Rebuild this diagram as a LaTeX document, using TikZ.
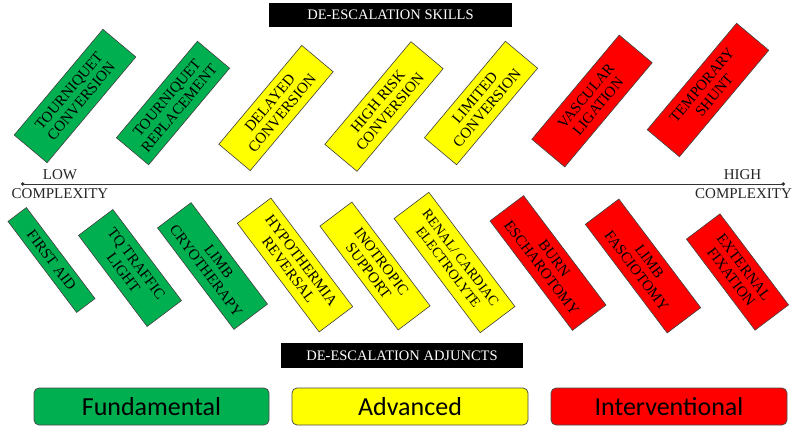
\documentclass[tikz,border=0pt]{standalone}
\usepackage{fontspec}
\setmainfont{Liberation Serif}
\newfontfamily\legendfont{Carlito}
\usepackage{tikz}
\usetikzlibrary{arrows.meta}
\definecolor{fundgreen}{HTML}{00B050}
\definecolor{advyellow}{HTML}{FFFF00}
\definecolor{intred}{HTML}{FF0000}

\begin{document}
\begin{tikzpicture}[x=1pt,y=1pt]
\tikzset{skill/.style={draw=black!75, line width=0.6pt, inner sep=0pt, align=center,
  font=\fontsize{15}{16}\selectfont}}
\tikzset{up skill/.style={skill, rotate=50}}
\tikzset{down skill/.style={skill, rotate=-53}}
\tikzset{banner/.style={fill=black, text=white, inner sep=0pt, minimum height=24pt,
  font=\fontsize{14.5}{15}\selectfont}}
\tikzset{endlabel/.style={inner sep=0pt, text=black!85, font=\fontsize{15}{15}\selectfont}}
\tikzset{legend/.style={draw=black!70, line width=0.75pt, rounded corners=5pt,
  minimum width=236pt, minimum height=37pt, inner sep=0pt,
  font=\legendfont\fontsize{26}{26}\selectfont}}
\fill[white] (0,0) rectangle (800,437);
\useasboundingbox (0,0) rectangle (800,437);

\node[banner, minimum width=243pt] (skillsbanner) at (390.5,422) {DE-ESCALATION SKILLS};

\node[up skill, fill=fundgreen, minimum width=138pt, minimum height=43pt] (tqconv) at (75,341) {TOURNIQUET\\CONVERSION};
\node[up skill, fill=fundgreen, minimum width=126pt, minimum height=42pt] (tqrepl) at (173,334) {TOURNIQUET\\REPLACEMENT};
\node[up skill, fill=advyellow, minimum width=129pt, minimum height=41pt] (delayed) at (276,329) {DELAYED\\CONVERSION};
\node[up skill, fill=advyellow, minimum width=134pt, minimum height=42pt] (highrisk) at (384,330.5) {HIGH RISK\\CONVERSION};
\node[up skill, fill=advyellow, minimum width=126pt, minimum height=42pt] (limited) at (481,334) {LIMITED\\CONVERSION};
\node[up skill, fill=intred, minimum width=136pt, minimum height=43pt] (ligation) at (592,336) {VASCULAR\\LIGATION};
\node[up skill, fill=intred, minimum width=139pt, minimum height=42pt] (shunt) at (708,347) {TEMPORARY\\SHUNT};

\coordinate (lowend) at (21,253);
\coordinate (highend) at (785,253);
\draw[line width=0.9pt, black!80, {Circle[length=3.5pt]}-{Circle[length=3.5pt]}] (lowend) -- (highend);
\node[endlabel] (low) at (60,262) {LOW};
\node[endlabel] (lowcx) at (60,243) {COMPLEXITY};
\node[endlabel] (high) at (742.5,262) {HIGH};
\node[endlabel] (highcx) at (743.5,243) {COMPLEXITY};

\node[down skill, fill=fundgreen, minimum width=114pt, minimum height=23pt] (firstaid) at (51.5,177) {FIRST AID};
\node[down skill, fill=fundgreen, minimum width=114pt, minimum height=43pt] (traffic) at (130,169) {TQ TRAFFIC\\LIGHT};
\node[down skill, fill=fundgreen, minimum width=127pt, minimum height=42pt] (cryo) at (212.5,171) {LIMB\\CRYOTHERAPY};
\node[down skill, fill=advyellow, minimum width=136pt, minimum height=42pt] (hypo) at (295,172) {HYPOTHERMIA\\REVERSAL};
\node[down skill, fill=advyellow, minimum width=130pt, minimum height=40pt] (inotrop) at (375,171) {INOTROPIC\\SUPPORT};
\node[down skill, fill=advyellow, minimum width=143pt, minimum height=43.5pt, font=\fontsize{14}{15.5}\selectfont] (renal) at (454.5,174.5) {RENAL/ CARDIAC\\ELECTROLYTE};
\node[down skill, fill=intred, minimum width=137pt, minimum height=42pt] (burn) at (548,174) {BURN\\ESCHAROTOMY};
\node[down skill, fill=intred, minimum width=136pt, minimum height=42pt] (fascio) at (643,171) {LIMB\\FASCIOTOMY};
\node[down skill, fill=intred, minimum width=114pt, minimum height=42pt] (exfix) at (737.5,165) {EXTERNAL\\FIXATION};

\node[banner, minimum width=242pt, minimum height=25pt] (adjunctsbanner) at (402,81.5) {DE-ESCALATION ADJUNCTS};

\node[legend, fill=fundgreen, minimum width=235pt] (fundamental) at (151.5,30.5) {Fundamental};
\node[legend, fill=advyellow] (advanced) at (410,30.5) {Advanced};
\node[legend, fill=intred] (interventional) at (669,30.5) {Interventional};
\end{tikzpicture}
\end{document}
